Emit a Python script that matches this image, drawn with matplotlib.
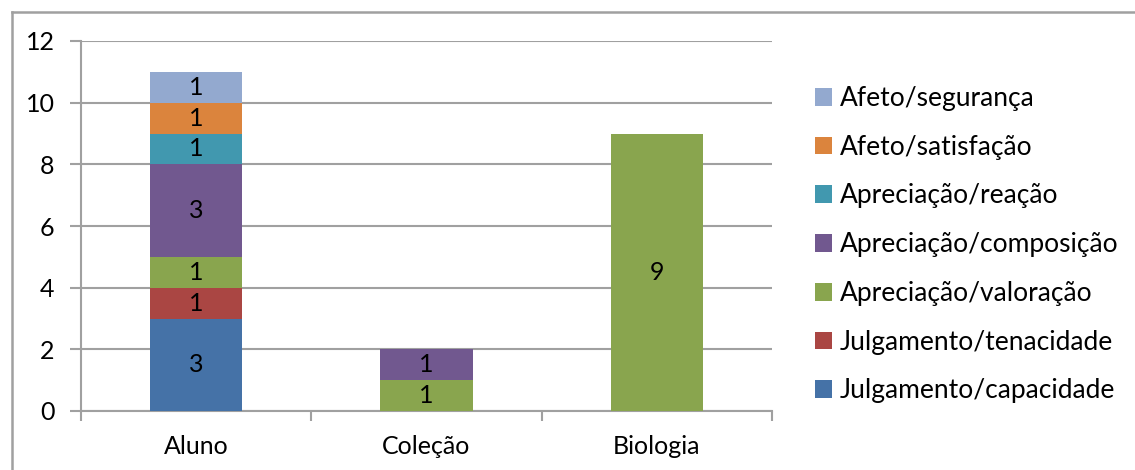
import matplotlib
matplotlib.use("Agg")
import matplotlib.pyplot as plt
from matplotlib.lines import Line2D
import numpy as np

categories = ["Aluno", "Coleção", "Biologia"]
series_names = [
    "Julgamento/capacidade",
    "Julgamento/tenacidade",
    "Apreciação/valoração",
    "Apreciação/composição",
    "Apreciação/reação",
    "Afeto/satisfação",
    "Afeto/segurança",
]
julg_capacidade = [3, 0, 0]
julg_tenacidade = [1, 0, 0]
aprec_valoracao = [1, 1, 9]
aprec_composicao = [3, 1, 0]
aprec_reacao = [1, 0, 0]
afeto_satisfacao = [1, 0, 0]
afeto_seguranca = [1, 0, 0]
series_values = [julg_capacidade, julg_tenacidade, aprec_valoracao,
                 aprec_composicao, aprec_reacao, afeto_satisfacao, afeto_seguranca]
colors = ["#4572A7", "#AA4643", "#89A54E", "#71588F", "#4198AF", "#DB843D", "#93A9CF"]
y_ticks = [0, 2, 4, 6, 8, 10, 12]

FONT = "Lato"
FS = 18
LFS = 19
grid_c = "#A0A0A0"

W, H = 1135, 470
fig = plt.figure(figsize=(W / 100, H / 100), dpi=100)
ax = fig.add_axes([81 / W, 1 - 411 / H, (772 - 81) / W, (411 - 41) / H])

x = np.arange(len(categories))
bottom = np.zeros(len(categories))
handles = []
for name, vals, c in zip(series_names, series_values, colors):
    vals = np.array(vals, dtype=float)
    bars = ax.bar(x, vals, width=0.4, bottom=bottom, color=c, label=name, zorder=3,
                  linewidth=0)
    for xi, v, b in zip(x, vals, bottom):
        if v > 0:
            ax.text(xi, b + v / 2, f"{int(v)}", ha="center", va="center",
                    fontsize=FS, family=FONT, color="black", zorder=4)
    bottom += vals
    handles.append(bars)

ax.set_xlim(-0.5, 2.5)
ax.set_ylim(0, 12)
ax.set_yticks(y_ticks)
ax.set_yticklabels([str(t) for t in y_ticks], fontsize=FS, family=FONT)
ax.set_xticks(x)
ax.set_xticklabels(categories, fontsize=FS, family=FONT)
ax.set_xticks([-0.5, 0.5, 1.5, 2.5], minor=True)
ax.tick_params(axis="x", which="major", length=0, pad=17)
ax.tick_params(axis="x", which="minor", length=7, width=1.5, color=grid_c, direction="out")
ax.tick_params(axis="y", length=8, width=1.5, color=grid_c, direction="out", pad=11)
ax.yaxis.grid(True, color=grid_c, linewidth=1.5, zorder=0)
ax.set_axisbelow(True)
for s in ["top", "right"]:
    ax.spines[s].set_visible(False)
for s in ["left", "bottom"]:
    ax.spines[s].set_color(grid_c)
    ax.spines[s].set_linewidth(1.5)

leg = fig.legend(handles[::-1], series_names[::-1], loc="upper left",
                 bbox_to_anchor=(815 / W, 1 - 86 / H), frameon=False,
                 prop={"family": FONT, "size": LFS}, handlelength=0.65,
                 handleheight=0.65, handletextpad=0.3, labelspacing=0.9,
                 borderpad=0, borderaxespad=0)

# outer chart border (top and left visible)
fig.add_artist(Line2D([12 / W, 12 / W], [1 - 12 / H, 0], transform=fig.transFigure,
                      color=grid_c, linewidth=1.8))
fig.add_artist(Line2D([12 / W, 1], [1 - 12 / H, 1 - 12 / H], transform=fig.transFigure,
                      color=grid_c, linewidth=1.8))

fig.savefig("out.png", dpi=100, facecolor="white")
